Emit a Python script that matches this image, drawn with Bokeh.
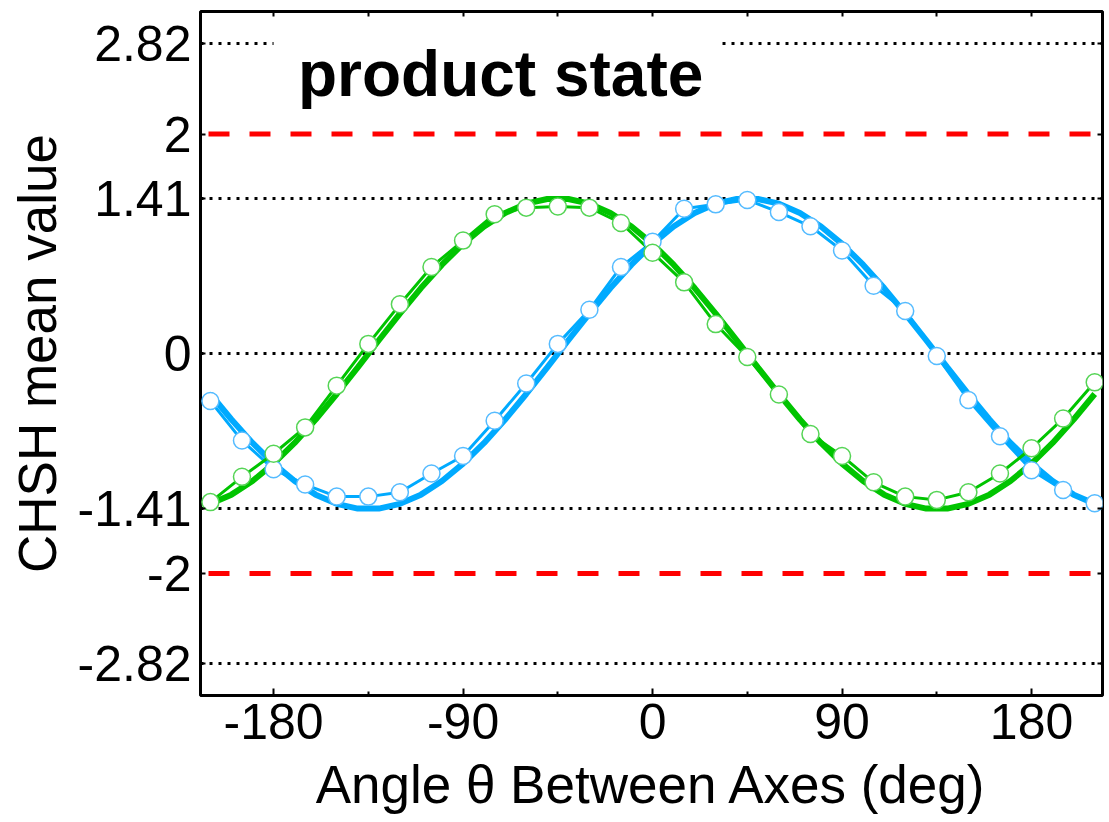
from bokeh.plotting import figure
from bokeh.models import (Range1d, FixedTicker, LinearAxis, Span, Label,
                          BoxAnnotation, CustomJSTickFormatter)
from bokeh.embed import file_html
from bokeh.resources import INLINE

# ---- data ----
theta_measured = [-210, -195, -180, -165, -150, -135, -120, -105, -90, -75,
                  -60, -45, -30, -15, 0, 15, 30, 45, 60, 75, 90, 105, 120,
                  135, 150, 165, 180, 195, 210]
blue_measured = [-0.43, -0.79, -1.05, -1.19, -1.30, -1.30, -1.26, -1.09, -0.93,
                 -0.61, -0.27, 0.09, 0.40, 0.79, 1.02, 1.32, 1.36, 1.40, 1.29,
                 1.16, 0.94, 0.62, 0.39, -0.02, -0.42, -0.75, -1.06, -1.24,
                 -1.36]
green_measured = [-1.35, -1.12, -0.91, -0.67, -0.29, 0.09, 0.45, 0.79, 1.03,
                  1.27, 1.33, 1.34, 1.33, 1.19, 0.92, 0.65, 0.27, -0.03, -0.37,
                  -0.73, -0.93, -1.17, -1.30, -1.33, -1.26, -1.09, -0.86,
                  -0.59, -0.26]

theta_theory = [-210, -200, -190, -180, -170, -160, -150, -140, -130, -120,
                -110, -100, -90, -80, -70, -60, -50, -40, -30, -20, -10, 0,
                10, 20, 30, 40, 50, 60, 70, 80, 90, 100, 110, 120, 130, 140,
                150, 160, 170, 180, 190, 200, 210]
blue_theory = [-0.366, -0.598, -0.811, -1.0, -1.158, -1.282, -1.366, -1.409,
               -1.409, -1.366, -1.282, -1.158, -1.0, -0.811, -0.598, -0.366,
               -0.123, 0.123, 0.366, 0.598, 0.811, 1.0, 1.158, 1.282, 1.366,
               1.409, 1.409, 1.366, 1.282, 1.158, 1.0, 0.811, 0.598, 0.366,
               0.123, -0.123, -0.366, -0.598, -0.811, -1.0, -1.158, -1.282,
               -1.366]
green_theory = [-1.366, -1.282, -1.158, -1.0, -0.811, -0.598, -0.366, -0.123,
                0.123, 0.366, 0.598, 0.811, 1.0, 1.158, 1.282, 1.366, 1.409,
                1.409, 1.366, 1.282, 1.158, 1.0, 0.811, 0.598, 0.366, 0.123,
                -0.123, -0.366, -0.598, -0.811, -1.0, -1.158, -1.282, -1.366,
                -1.409, -1.409, -1.366, -1.282, -1.158, -1.0, -0.811, -0.598,
                -0.366]

x_ticks = [-180, -90, 0, 90, 180]
x_minor_ticks = [-135, -45, 45, 135]
x_top_ticks = [-180, -135, -90, -45, 0, 45, 90, 135, 180]
y_ticks = [-2.82, -2, -1.41, 0, 1.41, 2, 2.82]
grid_levels = [-2.82, -1.41, 0, 1.41, 2.82]
classical_bounds = [2, -2]

title_text = "product state"
x_label = "Angle \u03b8 Between Axes (deg)"
y_label = "CHSH mean value"

FONT = "Liberation Sans"
BLUE = "#00AAFF"
GREEN = "#00C400"

p = figure(width=1109, height=822,
           x_range=Range1d(-214.7, 213.7), y_range=Range1d(-3.11, 3.115),
           output_backend="svg", toolbar_location=None,
           min_border_left=200, min_border_right=7,
           min_border_top=11, min_border_bottom=127)
p.background_fill_color = "white"
p.border_fill_color = "white"
p.outline_line_color = "black"
p.outline_line_width = 3
p.outline_line_alpha = 1.0

fmt = CustomJSTickFormatter(code="return tick.toString();")
blank_fmt = CustomJSTickFormatter(code="return '';")

# bottom axis
xa = p.xaxis[0]
xa.ticker = FixedTicker(ticks=x_ticks, minor_ticks=x_minor_ticks)
xa.formatter = fmt
xa.axis_line_color = None
xa.major_tick_in = 7
xa.major_tick_out = 0
xa.minor_tick_in = 4
xa.minor_tick_out = 0
xa.major_tick_line_width = 2
xa.minor_tick_line_width = 2
xa.major_tick_line_color = "black"
xa.minor_tick_line_color = "black"
xa.major_label_text_font = FONT
xa.major_label_text_font_size = "50px"
xa.major_label_text_color = "black"
xa.major_label_standoff = 8
xa.axis_label = x_label
xa.axis_label_text_font = FONT
xa.axis_label_text_font_size = "53px"
xa.axis_label_text_font_style = "normal"
xa.axis_label_text_color = "black"
xa.axis_label_standoff = 13

# left axis
ya = p.yaxis[0]
ya.ticker = FixedTicker(ticks=y_ticks)
ya.formatter = fmt
ya.axis_line_color = None
ya.major_tick_in = 5
ya.major_tick_out = 0
ya.minor_tick_line_color = None
ya.major_tick_line_width = 2
ya.major_tick_line_color = "black"
ya.major_label_text_font = FONT
ya.major_label_text_font_size = "50px"
ya.major_label_text_color = "black"
ya.major_label_standoff = 9
ya.axis_label = y_label
ya.axis_label_text_font = FONT
ya.axis_label_text_font_size = "53px"
ya.axis_label_text_font_style = "normal"
ya.axis_label_text_color = "black"
ya.axis_label_standoff = 8

# top axis (ticks only)
ta = LinearAxis(ticker=FixedTicker(ticks=x_top_ticks), axis_line_color=None,
                major_tick_in=5, major_tick_out=0, major_tick_line_width=2,
                major_tick_line_color="black", minor_tick_line_color=None,
                formatter=blank_fmt, major_label_text_color=None,
                major_label_text_font_size="1px", major_label_standoff=0)
p.add_layout(ta, "above")

# right axis (ticks only)
ra = LinearAxis(ticker=FixedTicker(ticks=y_ticks), axis_line_color=None,
                major_tick_in=5, major_tick_out=0, major_tick_line_width=2,
                major_tick_line_color="black", minor_tick_line_color=None,
                formatter=blank_fmt, major_label_text_color=None,
                major_label_text_font_size="1px", major_label_standoff=0)
p.add_layout(ra, "right")

# dotted grid
p.xgrid.visible = False
p.ygrid.ticker = FixedTicker(ticks=grid_levels)
p.ygrid.grid_line_color = "black"
p.ygrid.grid_line_width = 3
p.ygrid.grid_line_dash = "3 6"
p.ygrid.grid_line_alpha = 1.0

# classical bounds
for lvl in classical_bounds:
    p.add_layout(Span(location=lvl, dimension="width", line_color="#FF0000",
                      line_width=5, line_dash="21 20", line_dash_offset=33))

# theory curves
p.line(theta_theory, blue_theory, line_color=BLUE, line_width=6)
p.line(theta_theory, green_theory, line_color=GREEN, line_width=6)
# measured lines
p.line(theta_measured, blue_measured, line_color=BLUE, line_width=3)
p.line(theta_measured, green_measured, line_color=GREEN, line_width=3)
# markers
p.scatter(theta_measured, blue_measured, marker="circle", size=17,
          fill_color="white", line_color="#55BBFF", line_width=1.5)
p.scatter(theta_measured, green_measured, marker="circle", size=17,
          fill_color="white", line_color="#55D455", line_width=1.5)

# title box
p.add_layout(BoxAnnotation(left=-180, right=33, bottom=2.25, top=3.05,
                           fill_color="white", fill_alpha=1.0,
                           line_color=None))
p.add_layout(Label(x=-168.4, y=2.55, text=title_text, text_font=FONT,
                   text_font_size="64px", text_font_style="bold",
                   text_color="black", text_align="left",
                   text_baseline="alphabetic"))

open("out.html", "w").write(file_html(p, INLINE))
